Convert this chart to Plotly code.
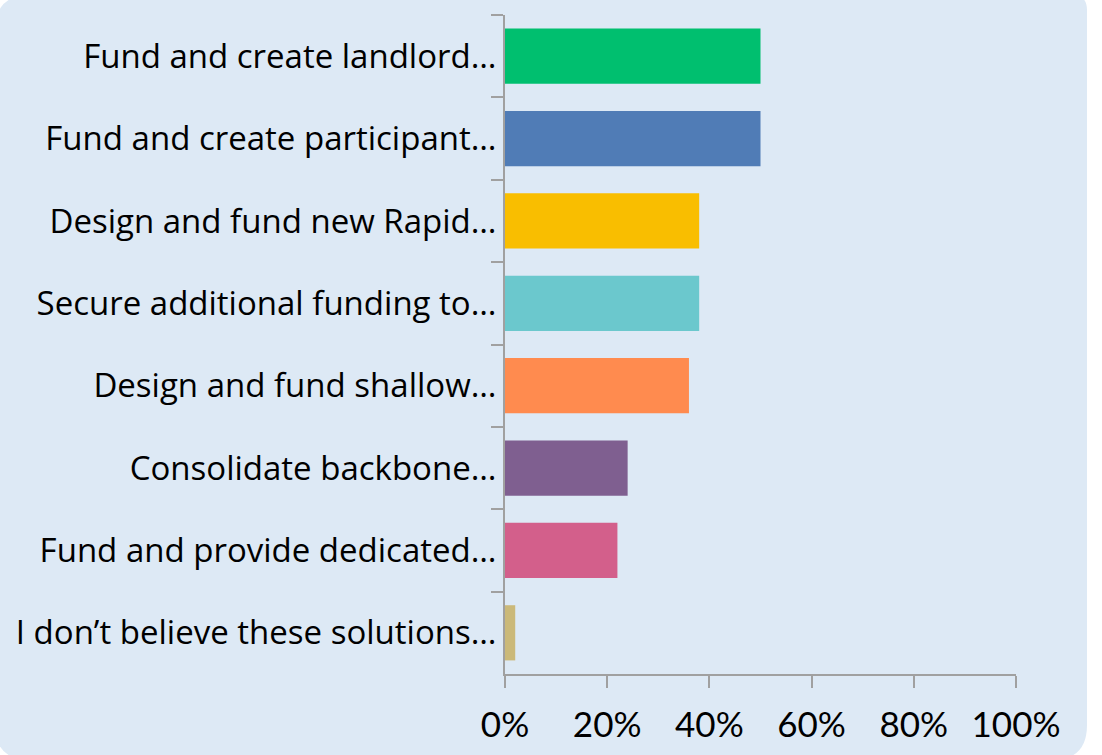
import plotly.graph_objects as go

# Survey responses: share of respondents choosing each solution
categories = [
    "Fund and create landlord…",
    "Fund and create participant…",
    "Design and fund new Rapid…",
    "Secure additional funding to…",
    "Design and fund shallow…",
    "Consolidate backbone…",
    "Fund and provide dedicated…",
    "I don’t believe these solutions…",
]
shares = [0.50, 0.50, 0.38, 0.38, 0.36, 0.24, 0.22, 0.02]
bar_colors = ["#00BF6F", "#507CB6", "#F9BE00", "#6BC8CD",
              "#FF8B4F", "#7F5F90", "#D35F8B", "#CBB979"]

W, H = 1102, 755
ML, MR, MT, MB = 505, 86, 15, 81
PW, PH = W - ML - MR, H - MT - MB


def px(x):
    return (x - ML) / PW


def py(y):
    return (H - MB - y) / PH


# rounded backdrop panel (pixel corners -> paper fractions)
left, top, right, bottom = -5, -5, 1087, 760
r_tl, r_tr, r_br, r_bl = 35, 15, 35, 35
path = (
    f"M {px(left + r_tl)} {py(top)} "
    f"L {px(right - r_tr)} {py(top)} "
    f"Q {px(right)} {py(top)} {px(right)} {py(top + r_tr)} "
    f"L {px(right)} {py(bottom - r_br)} "
    f"Q {px(right)} {py(bottom)} {px(right - r_br)} {py(bottom)} "
    f"L {px(left + r_bl)} {py(bottom)} "
    f"Q {px(left)} {py(bottom)} {px(left)} {py(bottom - r_bl)} "
    f"L {px(left)} {py(top + r_tl)} "
    f"Q {px(left)} {py(top)} {px(left + r_tl)} {py(top)} Z"
)

fig = go.Figure(
    go.Bar(
        x=shares,
        y=categories,
        orientation="h",
        marker=dict(color=bar_colors, line=dict(width=0)),
        width=0.67,
        hoverinfo="x+y",
    )
)

fig.add_shape(
    type="path", path=path, xref="paper", yref="paper",
    fillcolor="#DDE9F5", line=dict(width=0), layer="below",
)

axis_color = "#A0A0A0"
fig.update_layout(
    width=W,
    height=H,
    margin=dict(l=ML, r=MR, t=MT, b=MB, pad=0),
    paper_bgcolor="white",
    plot_bgcolor="rgba(0,0,0,0)",
    font=dict(family="Open Sans, sans-serif", size=32, color="#000000"),
    showlegend=False,
    bargap=0.33,
    xaxis=dict(
        range=[0, 1],
        dtick=0.2,
        tickformat=".0%",
        tickfont=dict(family="Lato, sans-serif", size=35),
        showgrid=False,
        zeroline=False,
        showline=True,
        linecolor=axis_color,
        linewidth=2,
        ticks="outside",
        ticklen=12,
        tickwidth=2,
        tickcolor=axis_color,
        ticklabelstandoff=7,
        fixedrange=True,
    ),
    yaxis=dict(
        autorange="reversed",
        tickfont=dict(family="Open Sans, sans-serif", size=33),
        showgrid=False,
        zeroline=False,
        showline=True,
        linecolor=axis_color,
        linewidth=2,
        ticks="outside",
        tickson="boundaries",
        ticklen=12,
        tickwidth=2,
        tickcolor=axis_color,
        ticklabelstandoff=0,
        fixedrange=True,
    ),
)

fig.write_html("out.html")
